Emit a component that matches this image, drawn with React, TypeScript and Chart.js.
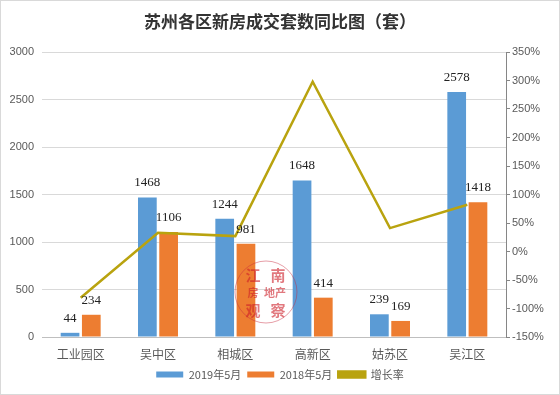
import React, { useEffect, useRef } from "react";
import { Chart, registerables } from "chart.js";

Chart.register(...registerables);

const TITLE = "苏州各区新房成交套数同比图（套）";
const categories = ["工业园区", "吴中区", "相城区", "高新区", "姑苏区", "吴江区"];
const sales2019 = [44, 1468, 1244, 1648, 239, 2578];
const sales2018 = [234, 1106, 981, 414, 169, 1418];
const growthRate = [-81, 33, 27, 298, 41, 82];
const leftTicks = [0, 500, 1000, 1500, 2000, 2500, 3000];
const rightTicks = [-150, -100, -50, 0, 50, 100, 150, 200, 250, 300, 350];
const seriesNames = ["2019年5月", "2018年5月", "增长率"];

const BLUE = "#5b9bd5";
const ORANGE = "#ed7d31";
const OLIVE = "#b9a30f";
const TEXT = "#595959";

const titlePlugin = {
  id: "customTitle",
  afterDraw(chart: any) {
    const ctx = chart.ctx;
    ctx.save();
    ctx.font = "bold 17px 'Noto Sans CJK SC'";
    ctx.fillStyle = "#333333";
    ctx.textAlign = "center";
    ctx.textBaseline = "middle";
    ctx.fillText(TITLE, chart.width / 2, 21);
    ctx.restore();
  },
};

const barLabelPlugin = {
  id: "barLabels",
  afterDatasetsDraw(chart: any) {
    const ctx = chart.ctx;
    ctx.save();
    ctx.font = "13px 'Liberation Serif'";
    ctx.fillStyle = "#222222";
    ctx.textAlign = "center";
    ctx.textBaseline = "bottom";
    [0, 1].forEach((di) => {
      const meta = chart.getDatasetMeta(di);
      const data = chart.data.datasets[di].data;
      meta.data.forEach((el: any, i: number) => {
        ctx.fillText(String(data[i]), el.x, el.y - 8);
      });
    });
    ctx.restore();
  },
};

const stampPlugin = {
  id: "stamp",
  afterDraw(chart: any) {
    const ctx = chart.ctx;
    const xs = chart.scales.x;
    const cx = (xs.getPixelForValue(2) + xs.getPixelForValue(3)) / 2 - 8;
    const cy = chart.chartArea.bottom - 45;
    ctx.save();
    ctx.strokeStyle = "rgba(200,40,60,0.45)";
    ctx.lineWidth = 1;
    ctx.beginPath();
    ctx.arc(cx, cy, 31, 0, Math.PI * 2);
    ctx.stroke();
    ctx.fillStyle = "rgba(205,30,40,0.6)";
    ctx.font = "bold 15px 'Noto Sans CJK SC'";
    ctx.textAlign = "center";
    ctx.textBaseline = "middle";
    ctx.fillText("江", cx - 13, cy - 17);
    ctx.fillText("南", cx + 12, cy - 17);
    ctx.font = "bold 11px 'Noto Sans CJK SC'";
    ctx.fillText("房", cx - 13, cy + 1);
    ctx.fillText("地产", cx + 9, cy + 1);
    ctx.font = "bold 15px 'Noto Sans CJK SC'";
    ctx.fillText("观", cx - 13, cy + 18);
    ctx.fillText("察", cx + 12, cy + 18);
    ctx.restore();
  },
};

export default function App() {
  const ref = useRef<HTMLCanvasElement | null>(null);

  useEffect(() => {
    if (!ref.current) return;
    const chart = new Chart(ref.current, {
      type: "bar",
      data: {
        labels: categories,
        datasets: [
          {
            type: "bar",
            label: seriesNames[0],
            data: sales2019,
            backgroundColor: BLUE,
            borderWidth: 0,
            yAxisID: "y",
            categoryPercentage: 0.55,
            barPercentage: 0.88,
            order: 2,
          },
          {
            type: "bar",
            label: seriesNames[1],
            data: sales2018,
            backgroundColor: ORANGE,
            borderWidth: 0,
            yAxisID: "y",
            categoryPercentage: 0.55,
            barPercentage: 0.88,
            order: 2,
          },
          {
            type: "line",
            label: seriesNames[2],
            data: growthRate,
            borderColor: OLIVE,
            backgroundColor: OLIVE,
            borderWidth: 2.5,
            pointRadius: 0,
            tension: 0,
            yAxisID: "y1",
            order: 1,
          } as any,
        ],
      },
      options: {
        animation: false,
        responsive: false,
        maintainAspectRatio: false,
        layout: { padding: { top: 51, left: 0, right: 0, bottom: 4 } },
        plugins: {
          title: { display: false },
          tooltip: { enabled: false },
          legend: {
            position: "bottom",
            labels: {
              boxWidth: 27,
              boxHeight: 6,
              padding: 6,
              color: TEXT,
              font: { size: 11, family: "'Noto Sans CJK SC'" },
              sort: (a: any, b: any) => a.datasetIndex - b.datasetIndex,
            },
          },
        },
        scales: {
          x: {
            grid: { display: false },
            border: { display: true, color: "#bfbfbf" },
            ticks: {
              color: TEXT,
              font: { size: 12, family: "'Noto Sans CJK SC'" },
              padding: 2,
            },
            afterFit(scale: any) {
              scale.height = 26;
            },
          },
          y: {
            position: "left",
            min: 0,
            max: 3000,
            afterBuildTicks(scale: any) {
              scale.ticks = leftTicks.map((v) => ({ value: v }));
            },
            grid: { color: "#d9d9d9", drawTicks: false },
            border: { display: false },
            ticks: {
              color: TEXT,
              padding: 8,
              font: { size: 11, family: "'Liberation Sans'" },
              callback: (v: any) => String(v),
            },
            afterFit(scale: any) {
              scale.width = 41;
            },
          },
          y1: {
            position: "right",
            min: -150,
            max: 350,
            afterBuildTicks(scale: any) {
              scale.ticks = rightTicks.map((v) => ({ value: v }));
            },
            grid: {
              drawOnChartArea: false,
              drawTicks: true,
              tickLength: 4,
              color: "#868686",
            },
            border: { display: true, color: "#868686" },
            ticks: {
              color: TEXT,
              padding: 2,
              font: { size: 11, family: "'Liberation Sans'" },
              callback: (v: any) => v + "%",
            },
            afterFit(scale: any) {
              scale.width = 53;
            },
          },
        },
      },
      plugins: [titlePlugin, barLabelPlugin, stampPlugin],
    });
    return () => chart.destroy();
  }, []);

  return (
    <div
      style={{
        position: "fixed",
        left: 0,
        top: 0,
        width: 560,
        height: 395,
        background: "#ffffff",
        boxSizing: "border-box",
        border: "1px solid #d9d9d9",
      }}
    >
      <canvas ref={ref} width={558} height={393} style={{ display: "block" }} />
    </div>
  );
}
